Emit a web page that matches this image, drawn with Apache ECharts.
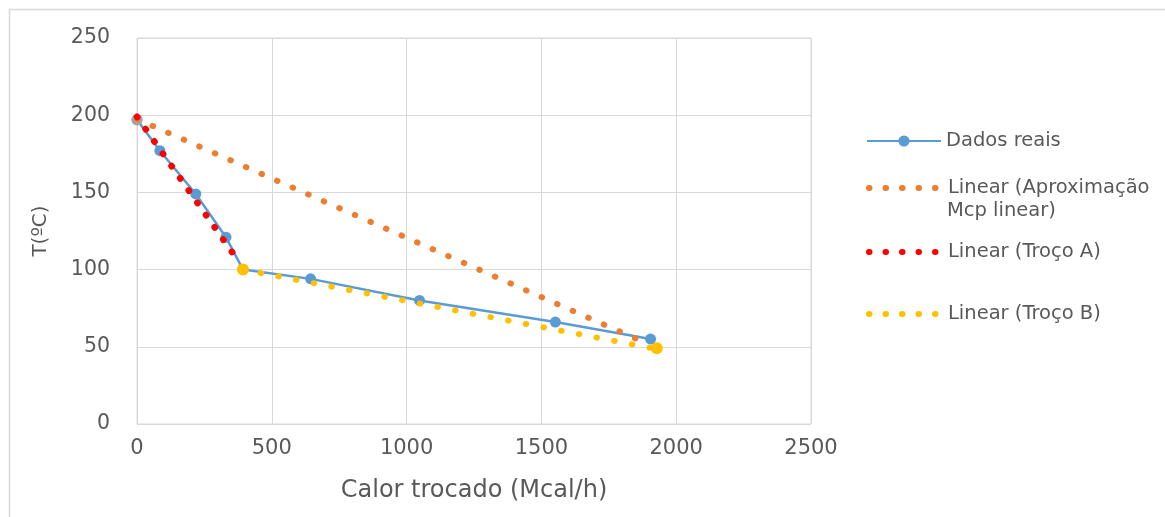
<!DOCTYPE html>
<html>
<head>
<meta charset="utf-8">
<script src="https://cdn.jsdelivr.net/npm/echarts@6/dist/echarts.min.js"></script>
<style>html,body{margin:0;padding:0;background:#fff}#c{width:1165px;height:517px}</style>
</head>
<body>
<div id="c"></div>
<script>
// Data
const xTicks = [0, 500, 1000, 1500, 2000, 2500];
const yTicks = [0, 50, 100, 150, 200, 250];
const dadosReais = [[0,197],[85,177],[218,149],[330,121],[393,100],[644,94],[1048,80],[1552,66],[1905,55]];
const trocoAData = [[0,197]];
const trocoBData = [[393,100],[1928,49]];
const trendMcp = [[0,197.5],[1900,51.5]];
const trendA = [[0,199],[382,104]];
const trendB = [[393,100],[1928,48.5]];

const FONT = 'DejaVu Sans';
const TXT = '#595959';
const LFS = 19.5;
const chart = echarts.init(document.getElementById('c'), null, {renderer:'canvas'});

function dotted(color, gap, w){
  return {type:[0.5, gap], cap:'round', width:w||6, color:color};
}
function legendAt(name, top, extra){
  return Object.assign({
    data:[name], left:866, top:top, orient:'vertical', padding:0,
    itemWidth:74, itemHeight:14, itemGap:0,
    textStyle:{fontFamily:FONT, fontSize:LFS, color:TXT},
    selectedMode:false
  }, extra||{});
}
function dotLegend(name, top, color, extra){
  return legendAt(name, top, Object.assign({
    itemStyle:{opacity:0},
    lineStyle:{color:color, width:6, cap:'round', type:[0.5,16]}
  }, extra||{}));
}

chart.setOption({
  animation:false,
  backgroundColor:'#fff',
  graphic:[
    {type:'rect', shape:{x:9.5,y:9.5,width:1300,height:700}, style:{fill:'none', stroke:'#d9d9d9', lineWidth:1.5}, silent:true},
    {type:'text', left:947, top:201, style:{text:'Mcp linear)', font:LFS + 'px "DejaVu Sans"', fill:TXT}, silent:true}
  ],
  grid:{left:137, top:38, right:354, bottom:93, show:true, borderColor:'#d9d9d9', borderWidth:1},
  xAxis:{type:'value', min:0, max:2500, interval:500,
    name:'Calor trocado (Mcal/h)', nameLocation:'middle', nameGap:55,
    nameTextStyle:{fontFamily:FONT, fontSize:24, color:TXT},
    axisLine:{show:false}, axisTick:{show:false},
    axisLabel:{fontFamily:FONT, fontSize:21, color:TXT, margin:14, formatter:v => String(v)},
    splitLine:{lineStyle:{color:'#d9d9d9', width:1}}},
  yAxis:{type:'value', min:0, max:250, interval:50,
    name:'T(ºC)', nameLocation:'middle', nameGap:86, nameRotate:90,
    nameTextStyle:{fontFamily:FONT, fontSize:20, color:TXT},
    axisLine:{show:false}, axisTick:{show:false},
    axisLabel:{fontFamily:FONT, fontSize:20.5, color:TXT, margin:27, formatter:v => String(v)},
    splitLine:{lineStyle:{color:'#d9d9d9', width:1}}},
  legend:[
    legendAt('Dados reais', 131),
    dotLegend('Linear (Aproximação Mcp linear)', 178, '#ED7D31', {
      formatter: n => n.replace(' Mcp linear)', '')
    }),
    dotLegend('Linear (Troço A)', 242, '#FF0000'),
    dotLegend('Linear (Troço B)', 304, '#FFC000')
  ],
  series:[
    {name:'Dados reais', type:'line', data:dadosReais, symbol:'circle', symbolSize:11, z:2,
     lineStyle:{color:'#5B9BD5', width:2.5}, itemStyle:{color:'#5B9BD5'}},
    {name:'Troço A', type:'line', data:trocoAData, symbol:'circle', symbolSize:11, z:3,
     lineStyle:{width:0}, itemStyle:{color:'#A5A5A5'}},
    {name:'Troço B', type:'line', data:trocoBData, symbol:'circle', symbolSize:12, z:3,
     lineStyle:{width:0}, itemStyle:{color:'#FFC000'}},
    {name:'Linear (Aproximação Mcp linear)', type:'line', data:trendMcp, symbol:'none', z:4,
     lineStyle:dotted('#ED7D31', 16.5), itemStyle:{color:'#ED7D31'}},
    {name:'Linear (Troço A)', type:'line', data:trendA, symbol:'none', z:5,
     lineStyle:dotted('#FF0000', 14.5, 6.5), itemStyle:{color:'#FF0000'}},
    {name:'Linear (Troço B)', type:'line', data:trendB, symbol:'none', z:4,
     lineStyle:dotted('#FFC000', 17.5), itemStyle:{color:'#FFC000'}}
  ]
});
</script>
</body>
</html>
